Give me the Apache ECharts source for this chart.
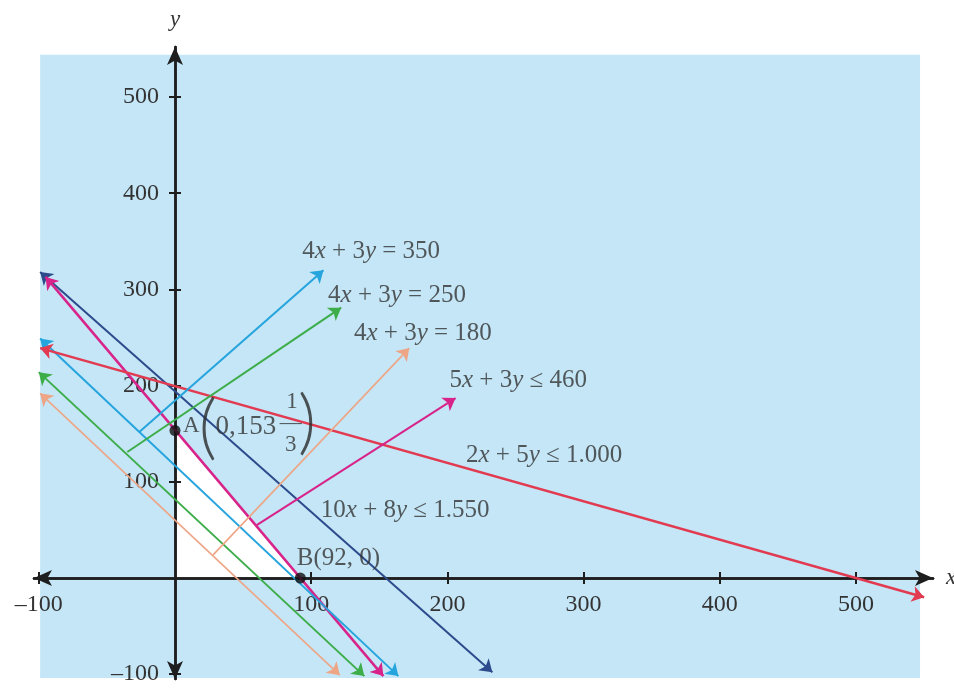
<!DOCTYPE html>
<html>
<head>
<meta charset="utf-8">
<style>
  html, body { margin: 0; padding: 0; background: #fff; }
  #main { width: 954px; height: 690px; }
</style>
<script src="https://cdn.jsdelivr.net/npm/echarts@6/dist/echarts.min.js"></script>
</head>
<body>
<div id="main"></div>
<script>
// tick values
var xTicks = [-100, 100, 200, 300, 400, 500];
var yTicks = [-100, 100, 200, 300, 400, 500];

// constraint / objective lines, ends (arrows at both ends)
var lineNames = ['10x + 8y = 1550', '5x + 3y = 460', '4x + 3y = 350', '2x + 5y = 1000', '4x + 3y = 250', '4x + 3y = 180'];
var lineStart = [[-99, 318], [-95, 313], [-99, 249], [-99, 239], [-100, 214], [-99, 192]];
var lineEnd = [[233, -98], [153, -102], [164, -102], [550, -20], [139, -102], [121, -101]];

// short arrows pointing from a line to its label
var pointerStart = [[-26, 152], [-35, 131], [28, 24], [60, 55]];
var pointerEnd = [[109, 320], [122, 281], [172, 239], [206, 187]];

// equation labels and where they sit (centre, data units)
var eqLabels = ['4x + 3y = 350', '4x + 3y = 250', '4x + 3y = 180', '5x + 3y ≤ 460', '2x + 5y ≤ 1.000', '10x + 8y ≤ 1.550'];
var eqLabelPos = [[144, 339], [163, 294], [182, 254], [252, 205], [271, 127], [169, 70]];

// corner points
var pointNames = ['A', 'B'];
var pointXY = [[0, 153.33], [92, 0]];
var bLabel = 'B(92, 0)';
var bLabelPos = [120, 20];

// pieces of the "A(0,153 1/3)" annotation
var aParts = ['A', '(', '0,153', '1', '\u2014', '3', ')'];
var aPartPos = [[12, 158], [24, 156], [52, 157], [86, 183], [85, 161], [85, 138], [97, 161]];

// white region and the blue backdrop
var region = [[0, 0], [0, 153.33], [92, 0]];
var backdrop = [[-99, -104], [547, 544]];

var lineColors = ['#2d4b8c', '#d8238a', '#25a4dd', '#e23a50', '#3dad4a', '#eea586'];
var lineWidths = [2, 2.5, 2, 2.5, 2, 1.6];
var pointerColors = ['#25a4dd', '#3dad4a', '#eea586', '#d8238a'];

var serif = 'Liberation Serif';
var ink = '#333333';
var axisInk = '#1e1e1e';

function italicize(s) {
  return s.replace(/[xy]/g, function (m) { return '{i|' + m + '}'; });
}
function minus(v) {
  return String(v).replace('-', '\u2013');
}

var chart = echarts.init(document.getElementById('main'));

var series = [];

series.push({
  type: 'custom',
  silent: true,
  z: 0,
  clip: false,
  data: [backdrop[0]],
  renderItem: function (params, api) {
    var p0 = api.coord(backdrop[0]);
    var p1 = api.coord(backdrop[1]);
    return {
      type: 'rect',
      shape: { x: p0[0], y: p1[1], width: p1[0] - p0[0], height: p0[1] - p1[1] },
      style: { fill: '#c4e6f6' }
    };
  }
});

series.push({
  type: 'custom',
  silent: true,
  z: 0,
  clip: false,
  data: [region[0]],
  renderItem: function (params, api) {
    return {
      type: 'polygon',
      z2: 5,
      shape: { points: region.map(function (p) { return api.coord(p); }) },
      style: { fill: '#ffffff' }
    };
  }
});

lineNames.forEach(function (n, i) {
  series.push({
    name: n,
    type: 'lines',
    coordinateSystem: 'cartesian2d',
    silent: true,
    z: 3,
    symbol: ['arrow', 'arrow'],
    symbolSize: 12,
    lineStyle: { color: lineColors[i], width: lineWidths[i], opacity: 1 },
    data: [{ coords: [lineStart[i], lineEnd[i]] }]
  });
});

pointerStart.forEach(function (p, i) {
  series.push({
    type: 'lines',
    coordinateSystem: 'cartesian2d',
    silent: true,
    z: 3,
    symbol: ['none', 'arrow'],
    symbolSize: 12,
    lineStyle: { color: pointerColors[i], width: i === 2 ? 1.6 : 2, opacity: 1 },
    data: [{ coords: [p, pointerEnd[i]] }]
  });
});

series.push({
  type: 'scatter',
  silent: true,
  z: 5,
  symbolSize: 11,
  itemStyle: { color: '#111' },
  data: pointXY.map(function (p, i) { return { name: pointNames[i], value: p }; })
});

series.push({
  type: 'scatter',
  silent: true,
  z: 6,
  symbolSize: 0,
  data: eqLabels.map(function (t, i) { return { name: t, value: eqLabelPos[i] }; })
    .concat([{ name: bLabel, value: bLabelPos }]),
  label: {
    show: true,
    position: 'inside',
    fontFamily: serif,
    fontSize: 25,
    color: ink,
    formatter: function (p) { return italicize(p.name); },
    rich: { i: { fontFamily: serif, fontSize: 25, color: ink, fontStyle: 'italic' } }
  }
});

var aSizes = [23, 70, 27, 23, 22, 23, 70];
series.push({
  type: 'scatter',
  silent: true,
  z: 6,
  symbolSize: 0,
  data: aParts.map(function (t, i) {
    var paren = t === '(' || t === ')';
    return {
      name: t,
      value: aPartPos[i],
      label: paren
        ? { fontSize: aSizes[i], fontFamily: 'Lato', fontWeight: 300, color: '#2a2a2a' }
        : { fontSize: aSizes[i] }
    };
  }),
  label: {
    show: true,
    position: 'inside',
    fontFamily: serif,
    color: ink,
    formatter: '{b}'
  }
});

var tickStyle = { color: axisInk, width: 2 };
var lineStyleAxis = { color: axisInk, width: 2.5 };
var labelStyle = { fontFamily: serif, fontSize: 24, color: ink };

chart.setOption({
  animation: false,
  backgroundColor: '#ffffff',
  grid: { left: 34, right: 21, top: 47, bottom: 11, containLabel: false, outerBoundsMode: 'none' },
  xAxis: [{
    type: 'value', min: -103.5, max: 556.5, z: 1,
    position: 'bottom', offset: -101,
    splitLine: { show: false },
    axisLine: { onZero: false, symbol: ['arrow', 'arrow'], symbolSize: [12, 18], lineStyle: lineStyleAxis },
    axisTick: { customValues: xTicks, length: 6, lineStyle: tickStyle },
    axisLabel: Object.assign({ customValues: xTicks, margin: 15, formatter: minus }, labelStyle),
    name: 'x', nameLocation: 'end', nameGap: 13,
    nameTextStyle: { fontFamily: serif, fontSize: 23, fontStyle: 'italic', color: ink }
  }, {
    type: 'value', min: -103.5, max: 556.5, z: 1,
    position: 'bottom', offset: -101,
    splitLine: { show: false },
    axisLine: { onZero: false, lineStyle: lineStyleAxis },
    axisTick: { inside: true, customValues: xTicks, length: 6, lineStyle: tickStyle },
    axisLabel: { show: false }
  }],
  yAxis: [{
    type: 'value', min: -105, max: 552, z: 1,
    position: 'left', offset: -141,
    splitLine: { show: false },
    axisLine: { onZero: false, symbol: ['arrow', 'arrow'], symbolSize: [12, 18], lineStyle: lineStyleAxis },
    axisTick: { customValues: yTicks, length: 6, lineStyle: tickStyle },
    axisLabel: Object.assign({ customValues: yTicks, margin: 16, formatter: minus }, labelStyle),
    name: 'y', nameLocation: 'end', nameGap: 16,
    nameTextStyle: { fontFamily: serif, fontSize: 23, fontStyle: 'italic', color: ink }
  }, {
    type: 'value', min: -105, max: 552, z: 1,
    position: 'left', offset: -141,
    splitLine: { show: false },
    axisLine: { onZero: false, lineStyle: lineStyleAxis },
    axisTick: { inside: true, customValues: yTicks, length: 6, lineStyle: tickStyle },
    axisLabel: { show: false }
  }],
  series: series
});
</script>
</body>
</html>
